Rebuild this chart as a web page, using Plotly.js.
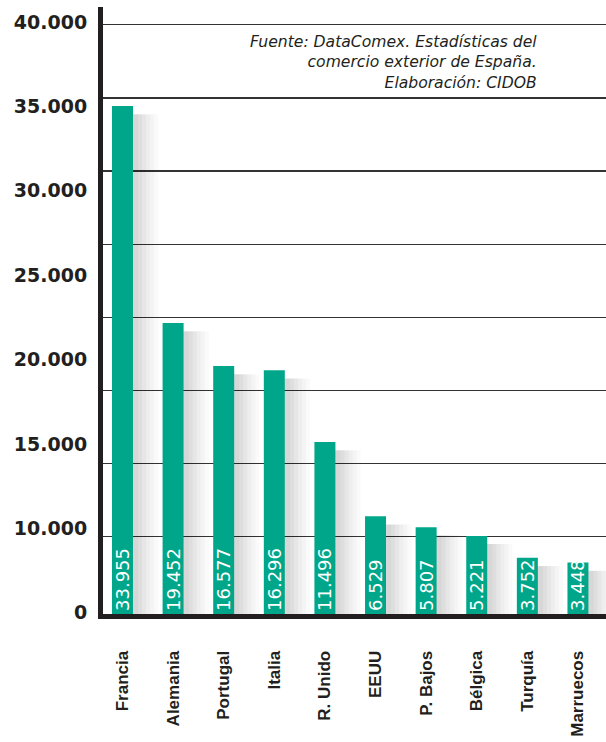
<!DOCTYPE html>
<html>
<head>
<meta charset="utf-8">
<script src="https://cdn.plot.ly/plotly-3.0.1.min.js"></script>
<style>html,body{margin:0;padding:0;background:#fff;}#chart{width:606px;height:742px;}</style>
</head>
<body>
<div id="chart"></div>
<script>
// ---- data ----
const countries = ['Francia', 'Alemania', 'Portugal', 'Italia', 'R. Unido', 'EEUU', 'P. Bajos', 'Bélgica', 'Turquía', 'Marruecos'];
const values = [33955, 19452, 16577, 16296, 11496, 6529, 5807, 5221, 3752, 3448];
const yTickLabels = ['0', '10.000', '15.000', '20.000', '25.000', '30.000', '35.000', '40.000'];
const sourceLines = ['Fuente: DataComex. Estadísticas del', 'comercio exterior de España.', 'Elaboración: CIDOB'];

// ---- helpers ----
const fmt = v => String(v).replace(/\B(?=(\d{3})+(?!\d))/g, '.');
const barText = values.map(fmt);
const labelIdx = yTickLabels.map((_, i) => i);
const gridIdx = [1, 2, 3, 4, 5, 6, 7, 8];

const GREEN = '#00a68a';
const INK = '#231f20';
const BAR_W = 0.415;

function shadow(w, a) {
  return {
    type: 'bar', x: countries, y: values, yaxis: 'y4',
    offset: BAR_W / 2, width: w,
    marker: {color: 'rgba(0,0,0,' + a + ')', line: {width: 0}},
    hoverinfo: 'skip', showlegend: false
  };
}

const traces = [
  shadow(0.50, 0.02),
  shadow(0.42, 0.025),
  shadow(0.34, 0.025),
  shadow(0.26, 0.03),
  shadow(0.18, 0.03),
  shadow(0.10, 0.03),
  {
    type: 'bar', x: countries, y: values,
    width: BAR_W,
    marker: {color: GREEN, line: {width: 0}},
    text: barText,
    textposition: 'inside',
    insidetextanchor: 'start',
    textangle: -90,
    constraintext: 'none',
    insidetextfont: {family: 'DejaVu Sans', size: 18, color: '#ffffff'},
    cliponaxis: false,
    hoverinfo: 'skip', showlegend: false
  },
  // invisible helper traces so overlay axes exist
  {type: 'scatter', x: [countries[0]], y: [0], yaxis: 'y2', mode: 'markers', marker: {opacity: 0}, hoverinfo: 'skip', showlegend: false},
  {type: 'scatter', x: [countries[0]], y: [0], yaxis: 'y3', mode: 'markers', marker: {opacity: 0}, hoverinfo: 'skip', showlegend: false}
];

const layout = {
  width: 606, height: 742,
  margin: {l: 103, r: 0, t: 7, b: 128},
  paper_bgcolor: '#ffffff', plot_bgcolor: '#ffffff',
  barmode: 'overlay',
  showlegend: false,
  hovermode: false,
  xaxis: {
    type: 'category',
    range: [-0.385, 9.554],
    showline: true, linewidth: 5, linecolor: INK,
    showgrid: false, zeroline: false,
    ticks: 'outside', ticklen: 25, tickcolor: 'rgba(0,0,0,0)',
    tickangle: -90,
    tickfont: {family: 'Liberation Sans', size: 17, color: INK, weight: 'bold'}
  },
  yaxis: {
    range: [0, 40575],
    showline: true, linewidth: 5, linecolor: INK,
    showgrid: false, zeroline: false,
    showticklabels: false, ticks: ''
  },
  yaxis2: {
    overlaying: 'y', side: 'left',
    range: [-0.06, 8.244],
    tickmode: 'array', tickvals: gridIdx,
    showgrid: true, gridcolor: '#333333', gridwidth: 1.2,
    showticklabels: false, ticks: '', zeroline: false, showline: false
  },
  yaxis3: {
    overlaying: 'y', side: 'left',
    range: [-0.0154, 7.176],
    tickmode: 'array', tickvals: labelIdx, ticktext: yTickLabels,
    showgrid: false, zeroline: false, showline: false,
    ticks: 'outside', ticklen: 11, tickcolor: 'rgba(0,0,0,0)',
    tickfont: {family: 'DejaVu Sans', size: 19, color: INK, weight: 'bold'}
  },
  yaxis4: {
    overlaying: 'y', side: 'left',
    range: [550, 41125],
    showgrid: false, zeroline: false, showline: false,
    showticklabels: false, ticks: ''
  },
  annotations: [{
    xref: 'paper', yref: 'paper', x: 0.866, y: 0.9086,
    xanchor: 'right', yanchor: 'middle', align: 'right',
    showarrow: false,
    text: sourceLines.join('<br>'),
    font: {family: 'DejaVu Sans', size: 15.6, color: INK, style: 'italic'}
  }]
};

Plotly.newPlot('chart', traces, layout, {displayModeBar: false, staticPlot: true});
</script>
</body>
</html>
